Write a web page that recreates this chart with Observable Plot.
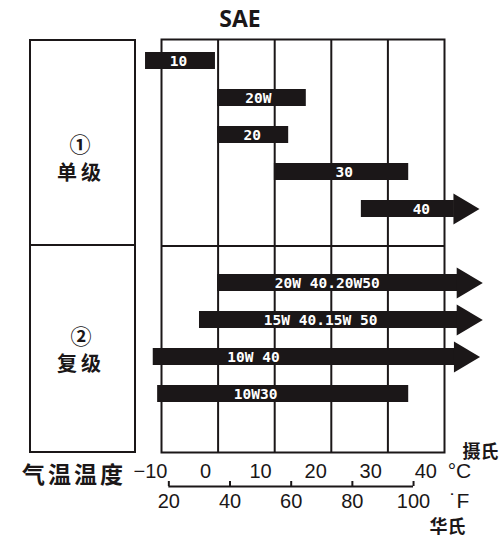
<!DOCTYPE html>
<html>
<head>
<meta charset="utf-8">
<script src="https://cdn.jsdelivr.net/npm/d3@7"></script>
<script src="https://cdn.jsdelivr.net/npm/@observablehq/plot@0.6"></script>
<style>
  body { margin: 0; background: #fff; }
  #wrap { position: relative; width: 502px; height: 538px; overflow: hidden; background: #fff; color: #1b1718; }
  .abs { position: absolute; }
  .ctr { position: absolute; width: 200px; text-align: center; white-space: nowrap; }
  .cjk { font-family: "Noto Sans CJK SC", sans-serif; font-weight: 700; }
  #lbox { left: 29px; top: 39px; width: 107px; height: 414px; border: 2px solid #1b1718; box-sizing: border-box; }
  #ldiv { left: 29px; top: 244px; width: 107px; height: 2px; background: #1b1718; }
  svg { overflow: visible; }
</style>
</head>
<body>
<div id="wrap">
  <div id="lbox" class="abs"></div>
  <div id="ldiv" class="abs"></div>
</div>
<script>
// ---- data ----
const title = "SAE";
const grades = ["10", "20W", "20", "30", "40", "20W40", "15W40", "10W40", "10W30"];
const gradeLabels = ["10", "20W", "20", "30", "40", "20W 40.20W50", "15W 40.15W 50", "10W 40", "10W30"];
const lowC = [-10.9, 2.2, 2.2, 12.5, 28.3, 2.2, -1.1, -9.5, -8.7];
const highC = [1.8, 18.3, 15.1, 36.9, 45.2, 45.8, 45.8, 45.3, 36.9];
const openEnded = [false, false, false, false, true, true, true, true, false];
const labelC = [-4.9, 9.6, 8.5, 25.2, 39.2, 22.1, 20.9, 8.7, 9.1];
const groupMarks = ["①", "②"];
const groupNames = ["单级", "复级"];
const cTicks = [-10, 0, 10, 20, 30, 40];
const fTicks = [20, 40, 60, 80, 100];
const axisName = "气温温度";
const cUnit = "°C", fUnit = "˙F", cName = "摄氏", fName = "华氏";

// ---- build ----
const ink = "#1b1718";
const toC = f => (f - 32) / 1.8;
const xDomain = [-8, 43.4];
const rows = grades.map((g, i) => ({grade: g, label: gradeLabels[i], lo: lowC[i], hi: highC[i], open: openEnded[i], at: labelC[i]}));
const yRows = [...grades.slice(0, 5), "gap", ...grades.slice(5), "end"];

const arrowHead = {
  draw(ctx, size) {
    const r = Math.sqrt(size / Math.PI);
    ctx.moveTo(-1, -r);
    ctx.lineTo(r * 1.62, 0);
    ctx.lineTo(-1, r);
    ctx.closePath();
  }
};

const main = Plot.plot({
  width: 502, height: 454,
  marginTop: 39, marginBottom: 2, marginLeft: 161, marginRight: 58,
  x: {domain: xDomain, axis: null},
  y: {domain: yRows, axis: null, paddingInner: 0.534, paddingOuter: 0.267},
  style: {fontFamily: "'Liberation Sans', Arial, sans-serif", background: "transparent", overflow: "visible"},
  marks: [
    Plot.ruleX(d3.range(1, 5).map(i => xDomain[0] + i * (xDomain[1] - xDomain[0]) / 5), {stroke: ink, strokeWidth: 2}),
    Plot.ruleY(["gap"], {stroke: ink, strokeWidth: 2}),
    Plot.frame({stroke: ink, strokeWidth: 2}),
    Plot.barX(rows, {x1: "lo", x2: "hi", y: "grade", fill: ink}),
    Plot.dot(rows.filter(d => d.open), {x: "hi", y: "grade", r: 15.5, symbol: arrowHead, fill: ink, stroke: "none"}),
    Plot.text(rows, {x: "at", y: "grade", text: "label", fill: "white", fontSize: 14.5, fontWeight: 700, fontFamily: "'DejaVu Sans Mono', monospace"})
  ]
});
main.style.position = "absolute";
main.style.left = "0px";
main.style.top = "0px";

const bRows = ["摄氏", "°C", "axis", "°F", "spacer", "华氏"];
const bottom = Plot.plot({
  width: 502, height: 102,
  marginTop: 16, marginBottom: 11, marginLeft: 161, marginRight: 58,
  x: {domain: xDomain, axis: null},
  y: {domain: bRows, type: "point", padding: 0, axis: null},
  style: {fontFamily: "'Liberation Sans', Arial, sans-serif", background: "transparent", overflow: "visible"},
  marks: [
    Plot.text(cTicks, {x: d => d, y: () => "°C", dy: 4, text: d => d < 0 ? "−" + Math.abs(d) : String(d), fontSize: 20, fill: ink}),
    Plot.ruleY(["axis"], {x1: toC(fTicks[0]), x2: toC(fTicks[fTicks.length - 1]), dy: 4, stroke: ink, strokeWidth: 2}),
    Plot.ruleX(fTicks, {x: toC, y1: () => "°C", y2: () => "axis", insetTop: 10, dy: 4, stroke: ink, strokeWidth: 2}),
    Plot.text(fTicks, {x: toC, y: () => "°F", dy: 4, text: d => String(d), fontSize: 20, fill: ink}),
    Plot.text([cUnit], {y: () => "°C", frameAnchor: "right", textAnchor: "middle", dx: 15, dy: 4, fontSize: 21, fill: ink}),
    Plot.text([fUnit], {y: () => "°F", frameAnchor: "right", textAnchor: "middle", dx: 15, dy: 4, fontSize: 21, fill: ink}),
    Plot.text([cName], {y: () => "摄氏", frameAnchor: "right", textAnchor: "middle", dx: 36, fontSize: 18, fontWeight: 700, fontFamily: "Noto Sans CJK SC", fill: ink}),
    Plot.text([fName], {y: () => "华氏", frameAnchor: "right", textAnchor: "middle", dx: 3, fontSize: 18, fontWeight: 700, fontFamily: "Noto Sans CJK SC", fill: ink})
  ]
});
bottom.style.position = "absolute";
bottom.style.left = "0px";
bottom.style.top = "436px";

const wrap = document.getElementById("wrap");
wrap.appendChild(main);
wrap.appendChild(bottom);

function addText(txt, cx, cy, size, cls, extra) {
  const d = document.createElement("div");
  d.className = "ctr " + (cls || "");
  d.textContent = txt;
  d.style.left = (cx - 100) + "px";
  d.style.top = (cy - size * 0.55) + "px";
  d.style.fontSize = size + "px";
  d.style.lineHeight = (size * 1.1) + "px";
  if (extra) Object.assign(d.style, extra);
  wrap.appendChild(d);
}
addText(title, 240, 19, 23, "", {fontFamily: "'Open Sans', sans-serif", fontWeight: "700"});
addText(groupMarks[0], 80, 144, 21, "cjk");
addText(groupNames[0], 81, 172, 20, "cjk", {letterSpacing: "4px"});
addText(groupMarks[1], 81, 336, 21, "cjk");
addText(groupNames[1], 81, 363, 20, "cjk", {letterSpacing: "4px"});
addText(axisName, 74, 474, 23, "cjk", {letterSpacing: "3px"});
</script>
</body>
</html>
